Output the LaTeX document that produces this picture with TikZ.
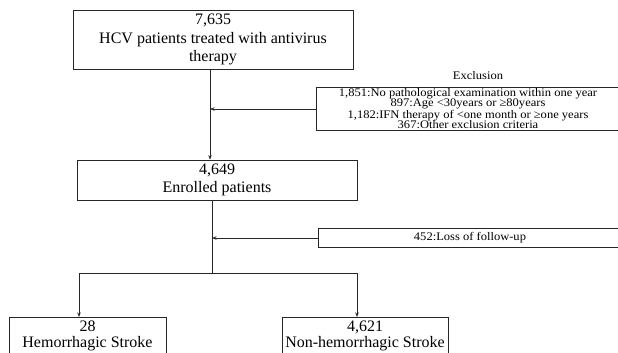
\documentclass[tikz,border=0pt]{standalone}
\usepackage{fontspec}
\setmainfont{Liberation Serif}
\newfontfamily\exclfont[FakeStretch=1.08]{Liberation Serif}
\usetikzlibrary{arrows.meta}
\tikzset{
  box/.style={draw=black!85, line width=0.7pt, align=center, inner sep=0pt,
    font=\fontsize{16}{18.5}\selectfont},
  sbox/.style={draw=black!85, line width=0.7pt, align=center, inner sep=0pt,
    font=\exclfont\fontsize{11.6}{10.6}\selectfont},
  conn/.style={draw=black!85, line width=0.7pt},
  arr/.style={conn, -{Stealth[length=4.5pt,width=3.5pt]}}
}
\begin{document}
\begin{tikzpicture}[x=1pt,y=-1pt]
\useasboundingbox (0,0) rectangle (618,353);
\begin{scope}
\clip (0,0) rectangle (618,353);
\node[box, minimum width=280, minimum height=59] (top) at (213,39.5)
  {7,635\\HCV patients treated with antivirus\\therapy};
\node[box, minimum width=280, minimum height=40] (enr) at (217,180)
  {4,649\\Enrolled patients};
\node[sbox, minimum width=304, minimum height=43] (excl) at (468,108.5)
  {1,851:No pathological examination within one year\\897:Age <30years or ≥80years\\1,182:IFN therapy of <one month or ≥one years\\367:Other exclusion criteria};
\node[font=\exclfont\fontsize{11.6}{10.6}\selectfont] (exlab) at (478,76) {Exclusion};
\node[sbox, minimum width=304, minimum height=19] (loss) at (470,237.5)
  {452:Loss of follow-up};
\node[box, anchor=north, minimum width=157, inner ysep=3.5pt,
  font=\fontsize{16}{16.5}\selectfont, text depth=22pt] (hem) at (87.5,317)
  {28\\Hemorrhagic Stroke};
\node[box, anchor=north, minimum width=166, inner ysep=3.5pt,
  font=\fontsize{16}{16.5}\selectfont, text depth=22pt] (non) at (365,317)
  {4,621\\Non-hemorrhagic Stroke};
\coordinate (t1) at (210,109);
\coordinate (br) at (212,273);
\coordinate (bl) at (79,273);
\coordinate (brr) at (357,273);
\coordinate (t2) at (212,238);
\draw[arr] (top.south -| t1) -- (enr.north -| t1);
\draw[arr] (excl.west |- t1) -- (t1);
\draw[conn] (enr.south -| br) -- (br);
\draw[arr] (loss.west |- t2) -- (t2);
\draw[arr] (br) -- (bl) -- (hem.north -| bl);
\draw[arr] (br) -- (brr) -- (non.north -| brr);
\end{scope}
\end{tikzpicture}
\end{document}
